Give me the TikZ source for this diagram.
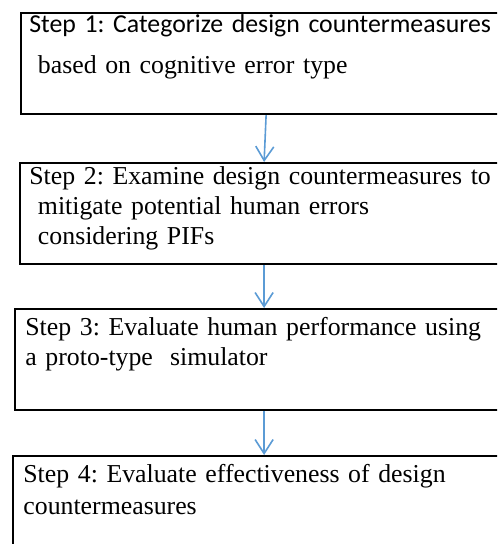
\documentclass[tikz,border=0pt]{standalone}
\usepackage{fontspec}
\setmainfont{Liberation Serif}
\newfontfamily\stepsans{Carlito}
\usetikzlibrary{arrows.meta}
\definecolor{flowblue}{RGB}{91,155,213}
\frenchspacing

\tikzset{
    stepbox/.style={draw, line width=1.1pt, rectangle, anchor=north west, inner sep=0pt},
    steptext/.style={anchor=base west, inner sep=0pt, text width=240pt, align=left,
                     font=\fontsize{12.9}{15}\selectfont},
    flow/.style={draw=flowblue, line width=0.8pt, -{Straight Barb[length=7pt,width=9pt]}}
}

\begin{document}
\begin{tikzpicture}[x=0.5pt, y=-0.5pt]

      \useasboundingbox (0,0) rectangle (497,544);
      \clip (0,0) rectangle (497,544);

      \node[stepbox, minimum width=245pt, minimum height=50.5pt] (box1) at (20,12)  {};
      \node[stepbox, minimum width=244pt, minimum height=50.5pt] (box2) at (19,162) {};
      \node[stepbox, minimum width=249pt, minimum height=50.5pt] (box3) at (14,308) {};
      \node[stepbox, minimum width=251pt, minimum height=55pt]   (box4) at (12,455) {};

      \node[steptext] (text1) at (29,33)  {{\stepsans Step 1: Categorize design countermeasures}\\[5.5pt]
                                            \ based on cognitive error type};
      \node[steptext] (text2) at (29,185) {Step 2: Examine design countermeasures to\\
                                            \ mitigate potential human errors\\
                                            \ considering PIFs};
      \node[steptext] (text3) at (25,335) {Step 3: Evaluate human performance using\\
                                            a proto-type\ \ simulator};
      \node[steptext] (text4) at (23,482) {Step 4: Evaluate effectiveness of design\\[1pt]
                                            countermeasures};

      \draw[flow] (box1.south) -- (box2.north);
      \draw[flow] (box2.south) -- (box3.north);
      \draw[flow] (box3.south) -- (box4.north);
    \end{tikzpicture}
\end{document}
